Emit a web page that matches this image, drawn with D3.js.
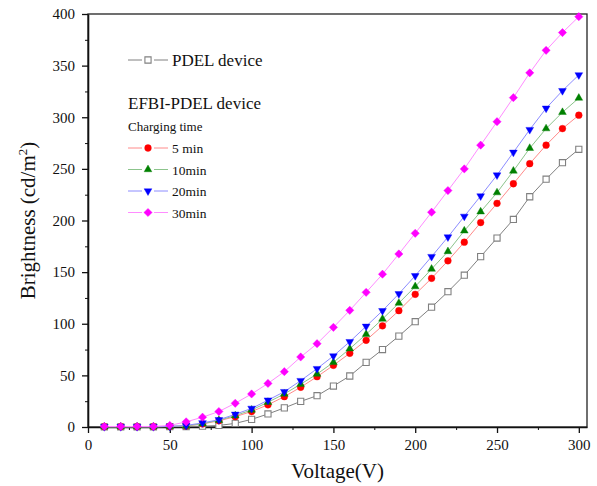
<!DOCTYPE html>
<html>
<head>
	<meta charset="utf-8">
	<title>Brightness vs Voltage</title>
	<script src="https://d3js.org/d3.v7.min.js"></script>
	<style>
	html, body {margin: 0; background: #fff; overflow: hidden}
	text {font-family: "Liberation Serif", "Times New Roman", serif; fill: #111;}
	.axis path, .axis line {stroke: #111;}
	</style>
</head>
<body>
<script>
	// voltage steps (V)
	var voltage = [10, 20, 30, 40, 50, 60, 70, 80, 90, 100, 110, 120, 130, 140, 150,
		160, 170, 180, 190, 200, 210, 220, 230, 240, 250, 260, 270, 280, 290, 300];

	// brightness (cd/m2)
	var pdel = [0.2, 0.2, 0.2, 0.2, 0.3, 0.4, 0.8, 1.5, 3.5, 7.4, 12.6, 18.5, 24.8, 30.3, 39.7,
		49.4, 62.6, 75, 88, 102, 116, 131, 147, 165, 183, 201, 223, 240, 256, 269];
	var min5 = [0.3, 0.3, 0.3, 0.3, 0.5, 1, 3, 6, 10, 15, 21.5, 29.4, 38.5, 48.7, 59.7,
		71.4, 84, 98, 112.7, 128.5, 144, 161, 179, 198, 216.6, 235.6, 255, 273, 289, 302];
	var min10 = [0.3, 0.3, 0.3, 0.3, 0.5, 1, 3.2, 6.5, 11, 16.5, 24, 32, 41.5, 51.3, 62.6,
		75.8, 89.8, 104.6, 120, 136, 153, 170, 190, 208.5, 227, 248, 270, 289, 304.8, 318.6];
	var min20 = [0.3, 0.3, 0.3, 0.3, 0.6, 1.5, 4, 7, 12.3, 18, 26, 34.2, 44.9, 56.5, 68.8,
		82.6, 97.5, 112.6, 129, 146.5, 165, 184, 204, 223.7, 244, 266, 288, 308.7, 325.7, 341];
	var min30 = [0.5, 0.5, 0.5, 0.5, 1.5, 5, 9.5, 15, 23, 32, 42.2, 53.6, 67.8, 80.7, 96.5,
		113, 130.4, 148, 167.6, 187.6, 208, 229, 250, 273, 295.7, 319, 343, 364.8, 382, 397.4];

	var xTicks = [0, 50, 100, 150, 200, 250, 300];
	var yTicks = [0, 50, 100, 150, 200, 250, 300, 350, 400];

	var series = [
		{name: "5 min", values: min5, shape: d3.symbolCircle, size: 36, rot: 0, fill: "#ff0000", stroke: "#ff0000", line: "#ff8a8a"},
		{name: "10min", values: min10, shape: d3.symbolTriangle, size: 26, rot: 0, fill: "#008000", stroke: "#008000", line: "#8cc48c"},
		{name: "20min", values: min20, shape: d3.symbolTriangle, size: 26, rot: 180, fill: "#0000ff", stroke: "#0000ff", line: "#8c8cff"},
		{name: "30min", values: min30, shape: d3.symbolSquare, size: 34, rot: 45, fill: "#ff00ff", stroke: "#ff00ff", line: "#ff8cff"}
	];
	var pdelSeries = {name: "PDEL device", values: pdel, shape: d3.symbolSquare, size: 38, rot: 0, fill: "#fff", stroke: "#808080", line: "#808080"};

	var width = 597, height = 486;
	var margin = {top: 14, right: 10, bottom: 59, left: 88};
	var iw = width - margin.left - margin.right;
	var ih = height - margin.top - margin.bottom;

	var svg = d3.select("body").append("svg")
		.attr("width", width)
		.attr("height", height);

	var g = svg.append("g")
		.attr("transform", "translate(" + margin.left + "," + margin.top + ")");

	var x = d3.scaleLinear().domain([0, 305]).range([0, iw]);
	var y = d3.scaleLinear().domain([0, 400]).range([ih, 0]);

	// frame
	g.append("rect")
		.attr("width", iw)
		.attr("height", ih)
		.attr("fill", "none")
		.attr("stroke", "#222")
		.attr("stroke-width", 1.3);

	// minor ticks
	var xMinor = g.append("g")
		.attr("class", "axis")
		.attr("transform", "translate(0," + ih + ")")
		.call(d3.axisBottom(x).tickValues([25, 75, 125, 175, 225, 275]).tickSize(3).tickFormat(""));
	xMinor.select(".domain").remove();
	var yMinor = g.append("g")
		.attr("class", "axis")
		.call(d3.axisLeft(y).tickValues([25, 75, 125, 175, 225, 275, 325, 375]).tickSize(3).tickFormat(""));
	yMinor.select(".domain").remove();

	var xAxis = g.append("g")
		.attr("class", "axis")
		.attr("transform", "translate(0," + ih + ")")
		.call(d3.axisBottom(x).tickValues(xTicks).tickSize(6).tickPadding(6).tickSizeOuter(0));
	xAxis.select(".domain").attr("stroke-width", 1.6);
	xAxis.selectAll("line").attr("stroke-width", 1.3);
	xAxis.selectAll("text").attr("font-size", 15);

	var yAxis = g.append("g")
		.attr("class", "axis")
		.call(d3.axisLeft(y).tickValues(yTicks).tickSize(6).tickPadding(7).tickSizeOuter(0));
	yAxis.select(".domain").attr("stroke-width", 1.6);
	yAxis.selectAll("line").attr("stroke-width", 1.3);
	yAxis.selectAll("text").attr("font-size", 15);

	// axis titles
	svg.append("text")
		.attr("x", margin.left + iw / 2)
		.attr("y", 478)
		.attr("text-anchor", "middle")
		.attr("font-size", 21)
		.text("Voltage(V)");

	var yTitle = svg.append("text")
		.attr("transform", "translate(35," + (margin.top + ih / 2) + ") rotate(-90)")
		.attr("text-anchor", "middle")
		.attr("font-size", 21);
	yTitle.append("tspan").text("Brightness (cd/m");
	yTitle.append("tspan").attr("font-size", 13).attr("dy", -8).text("2");
	yTitle.append("tspan").attr("dy", 8).text(")");

	function marker(sel, s) {
		sel.attr("d", d3.symbol().type(s.shape).size(s.size)())
			.attr("fill", s.fill)
			.attr("stroke", s.stroke)
			.attr("stroke-width", s.fill === "#fff" ? 1.1 : 0.4);
	}

	function drawSeries(s) {
		var pts = voltage.map(function(v, i) { return [v, s.values[i]]; });
		var line = d3.line()
			.x(function(d) { return x(d[0]); })
			.y(function(d) { return y(d[1]); });

		g.append("path")
			.datum(pts)
			.attr("d", line)
			.attr("fill", "none")
			.attr("stroke", s.line)
			.attr("stroke-width", 1);

		g.append("g")
			.selectAll("path")
			.data(pts)
			.enter().append("path")
			.attr("transform", function(d) {
				return "translate(" + x(d[0]) + "," + y(d[1]) + ") rotate(" + s.rot + ")";
			})
			.call(marker, s);
	}

	drawSeries(pdelSeries);
	series.forEach(drawSeries);

	// legend
	function legendItem(s, lx, ly) {
		svg.append("line")
			.attr("x1", lx).attr("x2", lx + 14)
			.attr("y1", ly).attr("y2", ly)
			.attr("stroke", s.line);
		svg.append("line")
			.attr("x1", lx + 26).attr("x2", lx + 40)
			.attr("y1", ly).attr("y2", ly)
			.attr("stroke", s.line);
		svg.append("path")
			.attr("transform", "translate(" + (lx + 20) + "," + ly + ") rotate(" + s.rot + ")")
			.call(marker, s);
	}

	legendItem(pdelSeries, 128, 60);
	svg.append("text")
		.attr("x", 172)
		.attr("y", 66)
		.attr("font-size", 17)
		.text("PDEL device");

	svg.append("text")
		.attr("x", 128)
		.attr("y", 109)
		.attr("font-size", 17)
		.text("EFBI-PDEL device");

	svg.append("text")
		.attr("x", 128)
		.attr("y", 131)
		.attr("font-size", 13)
		.text("Charging time");

	series.forEach(function(s, i) {
		var ly = 148 + i * 21.5;
		legendItem(s, 128, ly);
		svg.append("text")
			.attr("x", 172)
			.attr("y", ly + 5)
			.attr("font-size", 13.5)
			.text(s.name);
	});
</script>
</body>
</html>
